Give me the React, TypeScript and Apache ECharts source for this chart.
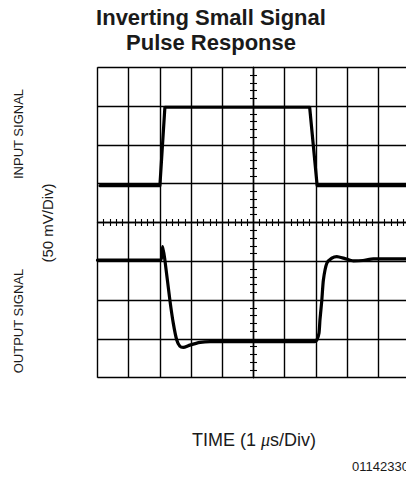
import React, { useEffect, useRef } from "react";
import * as echarts from "echarts";

// Time in divisions (1 µs/Div), centred on the screen; level in divisions (50 mV/Div)
const inputTime = [-4.92, -3.0, -2.84, 1.8, 2.04, 5];
const inputLevel = [0.95, 0.95, 2.97, 2.97, 0.95, 0.95];

const outputTime = [
  -5, -2.98, -2.91, -2.84, -2.68, -2.57, -2.46, -2.36, -2.25, -2.04, -1.71, -1.39,
  1.97, 2.03, 2.1, 2.13, 2.19, 2.24, 2.35, 2.51, 2.67, 2.93, 3.2, 3.51, 3.84, 5,
];
const outputLevel = [
  -0.97, -0.97, -0.62, -0.97, -2.0, -2.6, -3.03, -3.19, -3.22, -3.16, -3.09, -3.07,
  -3.07, -3.03, -2.85, -2.51, -2.0, -1.48, -1.05, -0.92, -0.88, -0.93, -0.99, -0.98,
  -0.94, -0.94,
];

const titleLines = ["Inverting Small Signal", "Pulse Response"];
const yLabelInput = "INPUT SIGNAL";
const yLabelOutput = "OUTPUT SIGNAL";
const yLabelScale = "(50 mV/Div)";
const figureId = "01142330";

const INK = "#1a1a1a";
const LABEL_FONT = "'Liberation Sans', Arial, sans-serif";

export default function App() {
  const ref = useRef<HTMLDivElement>(null);

  useEffect(() => {
    if (!ref.current) return;
    const chart = echarts.init(ref.current, undefined, { renderer: "svg" });

    const gridLine = { color: "#000", width: 1.4 };
    const minor = { show: true, splitNumber: 5, length: 3.5, lineStyle: { color: "#000", width: 1.1 } };

    const option: any = {
      animation: false,
      backgroundColor: "#fff",
      grid: { left: 97.5, top: 67.3, width: 312, height: 310.4, show: false },
      xAxis: [
        {
          type: "value", min: -5, max: 5, interval: 1,
          axisLine: { show: true, onZero: true, onZeroAxisIndex: 0, lineStyle: gridLine },
          axisTick: { show: false }, axisLabel: { show: false },
          minorTick: minor,
          splitLine: { show: true, lineStyle: gridLine },
        },
        {
          type: "value", min: -5, max: 5, interval: 1, position: "top",
          axisLine: { show: false, onZero: true, onZeroAxisIndex: 1, lineStyle: gridLine },
          axisTick: { show: false }, axisLabel: { show: false },
          minorTick: minor,
          splitLine: { show: false },
        },
      ],
      yAxis: [
        {
          type: "value", min: -4, max: 4, interval: 1,
          axisLine: { show: true, onZero: true, onZeroAxisIndex: 0, lineStyle: gridLine },
          axisTick: { show: false }, axisLabel: { show: false },
          minorTick: minor,
          splitLine: { show: true, lineStyle: gridLine },
        },
        {
          type: "value", min: -4, max: 4, interval: 1, position: "right",
          axisLine: { show: false, onZero: true, onZeroAxisIndex: 1, lineStyle: gridLine },
          axisTick: { show: false }, axisLabel: { show: false },
          minorTick: minor,
          splitLine: { show: false },
        },
      ],
      series: [
        {
          name: "Input", type: "line", xAxisIndex: 0, yAxisIndex: 0,
          data: inputTime.map((t, i) => [t, inputLevel[i]]),
          showSymbol: false, symbol: "none", clip: true,
          lineStyle: { color: "#000", width: 3.2, join: "round", cap: "round" },
        },
        {
          name: "Output", type: "line", xAxisIndex: 0, yAxisIndex: 0,
          data: outputTime.map((t, i) => [t, outputLevel[i]]),
          showSymbol: false, symbol: "none", clip: true, smooth: 0.2,
          lineStyle: { color: "#000", width: 3.2, join: "round", cap: "round" },
        },
      ],
      graphic: [
        {
          type: "text", x: 211, y: 17,
          style: { text: titleLines[0], fill: INK, font: "bold 22px 'Liberation Sans', Arial, sans-serif", textAlign: "center", textVerticalAlign: "middle" },
        },
        {
          type: "text", x: 211, y: 42,
          style: { text: titleLines[1], fill: INK, font: "bold 22px 'Liberation Sans', Arial, sans-serif", textAlign: "center", textVerticalAlign: "middle" },
        },
        {
          type: "text", x: 18, y: 134, rotation: Math.PI / 2,
          style: { text: yLabelInput, fill: INK, font: `13px ${LABEL_FONT}`, textAlign: "center", textVerticalAlign: "middle" },
        },
        {
          type: "text", x: 18, y: 321, rotation: Math.PI / 2,
          style: { text: yLabelOutput, fill: INK, font: `13px ${LABEL_FONT}`, textAlign: "center", textVerticalAlign: "middle" },
        },
        {
          type: "text", x: 47, y: 223, rotation: Math.PI / 2,
          style: { text: yLabelScale, fill: INK, font: `15px ${LABEL_FONT}`, textAlign: "center", textVerticalAlign: "middle" },
        },
        {
          type: "text", x: 254, y: 440,
          style: {
            text: "TIME (1 {mu|μ}s/Div)",
            fill: INK, font: `18px ${LABEL_FONT}`, textAlign: "center", textVerticalAlign: "middle",
            rich: { mu: { fontStyle: "italic", fontSize: 18, fontFamily: "'Liberation Serif', serif", fill: INK } },
          },
        },
        {
          type: "text", x: 352, y: 466,
          style: { text: figureId, fill: INK, font: `13px ${LABEL_FONT}`, textAlign: "left", textVerticalAlign: "middle" },
        },
      ],
    };

    chart.setOption(option);
    return () => chart.dispose();
  }, []);

  return (
    <div style={{ position: "fixed", left: 0, top: 0, width: 406, height: 477, overflow: "hidden", background: "#fff" }}>
      <div ref={ref} style={{ width: 412, height: 477 }} />
    </div>
  );
}
